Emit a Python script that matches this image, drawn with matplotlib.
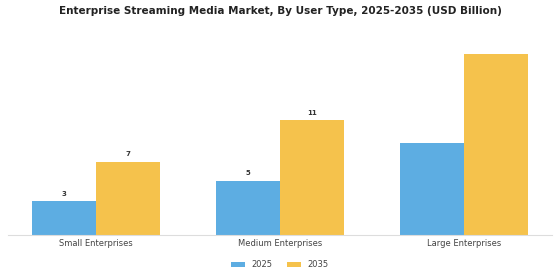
import numpy as np
import matplotlib
matplotlib.use("Agg")
import matplotlib.pyplot as plt

categories = ["Small Enterprises", "Medium Enterprises", "Large Enterprises"]
years = ["2025", "2035"]
v2025 = [3.2, 5.2, 8.8]
v2035 = [7.0, 11.0, 17.3]
# only the first two groups carry value labels in the source
labelled = [True, True, False]

_BLUE = "#5DADE2"
_YELLOW = "#F5C24C"

fig = plt.figure(figsize=(5.6, 2.8), dpi=100)
ax = fig.add_axes([0.0143, 0.1607, 0.9714, 0.70])
x = np.arange(len(categories))
w = 0.35
b1 = ax.bar(x - w / 2, v2025, w, color=_BLUE, label=years[0])
b2 = ax.bar(x + w / 2, v2035, w, color=_YELLOW, label=years[1])
for bars, vals in [(b1, v2025), (b2, v2035)]:
    for r, v, lab in zip(bars, vals, labelled):
        if lab:
            ax.annotate(f"{v:.0f}", (r.get_x() + r.get_width() / 2, v),
                        xytext=(0, 3), textcoords="offset points",
                        ha="center", va="bottom", fontsize=5, fontweight="bold", color="#333333")

ax.set_xlim(-0.478, 2.478)
ax.set_ylim(0, 18.7)
ax.set_xticks(x)
ax.set_xticklabels(categories, fontsize=6, color="#444444")
ax.tick_params(axis="x", length=0, pad=3)
ax.set_yticks([])
for s in ["top", "right", "left"]:
    ax.spines[s].set_visible(False)
ax.spines["bottom"].set_color("#dddddd")
ax.spines["bottom"].set_linewidth(0.8)

fig.suptitle("Enterprise Streaming Media Market, By User Type, 2025-2035 (USD Billion)",
             fontsize=7.5, fontweight="bold", color="#222222", y=0.978)
fig.legend(loc="lower center", ncol=2, frameon=False, fontsize=6, bbox_to_anchor=(0.5, 0.012),
           handlelength=1.6, handleheight=0.5, handletextpad=0.8, columnspacing=1.8,
           labelcolor="#444444")

fig.savefig("out.png", dpi=100)
